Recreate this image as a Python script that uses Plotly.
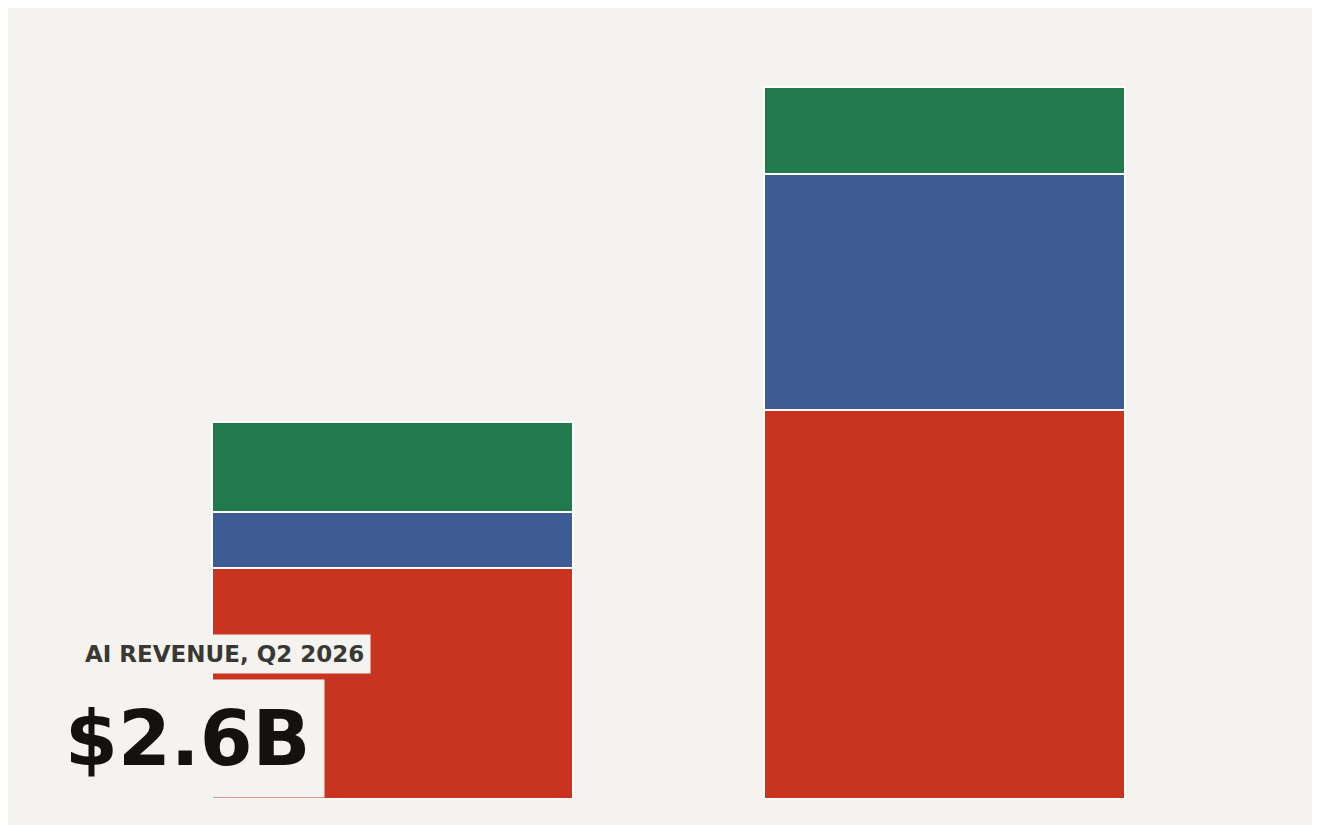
import plotly.graph_objects as go

periods = ["Before", "Q2 2026"]
seg_names = ["Segment A", "Segment B", "Segment C"]
seg_colors = ["#c93421", "#3d5c96", "#22794d"]
seg_values = [
    [1.59, 2.68],
    [0.39, 1.63],
    [0.62, 0.60],
]

bg = "#f4f3ef"
fig = go.Figure()
for name, color, vals in zip(seg_names, seg_colors, seg_values):
    fig.add_bar(x=periods, y=vals, name=name, marker=dict(color=color, line=dict(color="white", width=2)))

W, H, L, R, T, B = 1320, 825, 108, 108, 20, 34
pw, ph = W - L - R, H - T - B


def px(x):
    return (x - L) / pw


def py(y):
    return (H - B - y) / ph


fig.add_annotation(text="<b>AI REVENUE, Q2 2026</b>", xref="paper", yref="paper", x=px(70), y=py(646),
                   xanchor="left", yanchor="middle", showarrow=False,
                   font=dict(family="DejaVu Sans", size=23, color="#3a3833"),
                   bgcolor=bg, borderpad=6)
fig.add_annotation(text="<b>$2.6B</b>", xref="paper", yref="paper", x=px(42), y=py(730),
                   xanchor="left", yanchor="middle", showarrow=False,
                   font=dict(family="DejaVu Sans", size=76, color="#13120f"),
                   bgcolor=bg, borderpad=14)

fig.update_layout(
    width=W, height=H, barmode="stack", bargap=0.346,
    paper_bgcolor=bg, plot_bgcolor=bg, showlegend=False,
    margin=dict(l=L, r=R, t=T, b=B),
    xaxis=dict(visible=False, range=[-0.5, 1.5]),
    yaxis=dict(visible=False, range=[0, ph / 145]),
)
fig.write_html("out.html")
